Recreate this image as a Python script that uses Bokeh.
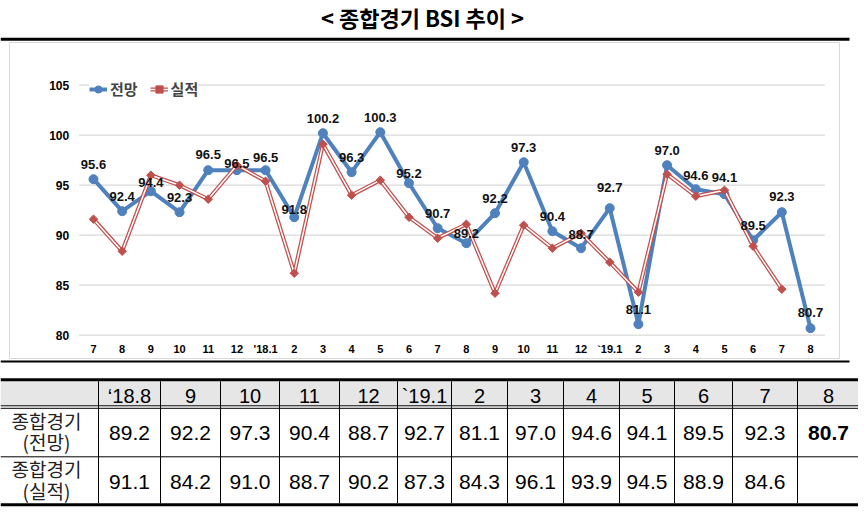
import numpy as np
from bokeh.plotting import figure
from bokeh.models import Range1d, Legend, LegendItem
from bokeh.layouts import column
from bokeh.core.properties import value
from bokeh.embed import file_html
from bokeh.resources import INLINE

# ---------------- data ----------------
title_text = "< 종합경기 BSI 추이 >"
months = ["7", "8", "9", "10", "11", "12", "'18.1", "2", "3", "4", "5", "6", "7",
          "8", "9", "10", "11", "12", "`19.1", "2", "3", "4", "5", "6", "7", "8"]
forecast = [95.6, 92.4, 94.4, 92.3, 96.5, 96.5, 96.5, 91.8, 100.2, 96.3, 100.3, 95.2, 90.7,
            89.2, 92.2, 97.3, 90.4, 88.7, 92.7, 81.1, 97.0, 94.6, 94.1, 89.5, 92.3, 80.7]
actual = [91.6, 88.4, 96.0, 95.0, 93.6, 97.0, 95.4, 86.2, 99.1, 94.0, 95.5, 91.8, 89.7,
          91.1, 84.2, 91.0, 88.7, 90.2, 87.3, 84.3, 96.1, 93.9, 94.5, 88.9, 84.6]
y_ticks = [80, 85, 90, 95, 100, 105]
series_names = ["전망", "실적"]

table_headers = ["\u201818.8", "9", "10", "11", "12", "`19.1", "2", "3", "4", "5", "6", "7", "8"]
table_forecast = [89.2, 92.2, 97.3, 90.4, 88.7, 92.7, 81.1, 97.0, 94.6, 94.1, 89.5, 92.3, 80.7]
table_actual = [91.1, 84.2, 91.0, 88.7, 90.2, 87.3, 84.3, 96.1, 93.9, 94.5, 88.9, 84.6]
row_labels = [("종합경기", "(전망)"), ("종합경기", "(실적)")]

# ---------------- layout / style ----------------
W = 858
HA = 372          # chart section height
HT = 143          # table section height
X0 = 93.0         # canvas x of first category
STEP = 28.68      # px per category
Y80 = 334.7       # canvas y of value 80
PPU = 10.0        # px per unit
BLUE = "#4f81bd"
RED = "#c0504d"
GRID = "#d9d9d9"
NUM_FONT = value("Liberation Sans")
KR_FONT = value("Noto Sans CJK KR")
# vertical offsets of the forecast data labels (px, negative = up)
label_dy = [-15, -15, -9, -15, -16, -7, -13, -8, -15, -15, -15, -10, -15,
            -10, -15, -15, -15, -14, -21, -15, -15, -14, -17, -15, -16, -16]

# ---------------- chart section ----------------
pa = figure(width=W, height=HA, output_backend="svg", toolbar_location=None,
            x_range=Range1d(0, W), y_range=Range1d(HA, 0),
            x_axis_location=None, y_axis_location=None, min_border=0,
            outline_line_color=None, background_fill_color="white",
            border_fill_color="white")
pa.xgrid.visible = False
pa.ygrid.visible = False
pa.extra_x_ranges = {"cx": Range1d(-X0 / STEP, (W - X0) / STEP)}
pa.extra_y_ranges = {"cy": Range1d(80 - (HA - Y80) / PPU, 80 + Y80 / PPU)}

# title and frame decorations (pixel layout)
pa.text(x=[422], y=[16], text=[title_text], text_font=KR_FONT, text_font_style="bold",
        text_font_size="22px", text_align="center", text_baseline="middle", text_color="black")
pa.segment(x0=[0], x1=[849], y0=[38.7], y1=[38.7], line_color="black", line_width=3)
pa.quad(left=[9], right=[839], top=[42], bottom=[358], fill_color="white", line_color=GRID,
        line_width=1)
pa.segment(x0=[0], x1=[849], y0=[361], y1=[361], line_color="black", line_width=2)

n = len(months)
idx = list(range(n))
idx_a = list(range(len(actual)))
kw = dict(x_range_name="cx", y_range_name="cy")

# gridlines
pa.segment(x0=[-0.5] * len(y_ticks), x1=[n - 0.5] * len(y_ticks), y0=y_ticks, y1=y_ticks,
           line_color=GRID, line_width=1.3, **kw)
# y tick labels
pa.text(x=[-0.5] * len(y_ticks), y=y_ticks, text=[str(t) for t in y_ticks], x_offset=-10,
        text_align="right", text_baseline="middle", text_font=NUM_FONT,
        text_font_style="bold", text_font_size="12px", text_color="black", **kw)
# x tick labels
pa.text(x=idx, y=[y_ticks[0]] * n, text=months, y_offset=14, text_align="center",
        text_baseline="middle", text_font=NUM_FONT, text_font_style="bold",
        text_font_size="11px", text_color="black", **kw)

# forecast series
bl = pa.line(idx, forecast, line_color=BLUE, line_width=4, **kw)
bc = pa.scatter(idx, forecast, size=9, fill_color=BLUE, line_color=BLUE, **kw)
# actual series (double line)
rl = pa.line(idx_a, actual, line_color=RED, line_width=4, **kw)
rw = pa.line(idx_a, actual, line_color="white", line_width=1.5, **kw)
rc = pa.scatter(idx_a, actual, marker="square", angle=np.pi / 4, size=6,
                fill_color=RED, line_color=RED, **kw)

# data labels
pa.text(x=idx, y=forecast, text=[f"{v:.1f}" for v in forecast], y_offset=label_dy,
        text_align="center", text_baseline="middle", text_font=NUM_FONT,
        text_font_style="bold", text_font_size="13px", text_color="#111111", **kw)

legend = Legend(items=[LegendItem(label=series_names[0], renderers=[bl, bc]),
                       LegendItem(label=series_names[1], renderers=[rl, rw, rc])],
                location=(89, HA - 99), orientation="horizontal",
                background_fill_color="white", background_fill_alpha=1.0,
                border_line_color=None, label_text_font="Noto Sans CJK KR",
                label_text_font_style="bold", label_text_font_size="15px",
                glyph_width=18, glyph_height=20, spacing=12, padding=3, margin=0,
                label_standoff=3)
pa.add_layout(legend)

# ---------------- table section ----------------
col_edges = [0, 98, 160, 220, 279, 339, 397, 451, 507, 563, 619, 674, 732, 797, 859]
HEAD_Y = 23.3
ROW_Y = [60.8, 109.2]
LABEL_Y = [(47.5, 69.0), (95.8, 117.5)]

pt = figure(width=W, height=HT, output_backend="svg", toolbar_location=None,
            x_range=Range1d(0, W), y_range=Range1d(HT, 0),
            x_axis_location=None, y_axis_location=None, min_border=0,
            outline_line_color=None, background_fill_color="white",
            border_fill_color="white")
pt.xgrid.visible = False
pt.ygrid.visible = False

pt.quad(left=[0], right=[W], top=[8.8], bottom=[33.3], fill_color="#e6e6e6", line_color=None)
pt.segment(x0=[0], x1=[W], y0=[7.3], y1=[7.3], line_color="black", line_width=3)
pt.segment(x0=[0, 0, 0], x1=[W, W, W], y0=[33.3, 35.8, 84.3], y1=[33.3, 35.8, 84.3],
           line_color="black", line_width=1)
pt.segment(x0=[0], x1=[W], y0=[132.3], y1=[132.3], line_color="black", line_width=3)
vx = col_edges[1:-1]
pt.segment(x0=vx, x1=vx, y0=[8.8] * len(vx), y1=[130.8] * len(vx),
           line_color="black", line_width=1)

centers = [(col_edges[i] + col_edges[i + 1]) / 2 for i in range(1, len(col_edges) - 1)]
pt.text(x=centers, y=[HEAD_Y] * len(centers), text=table_headers, text_align="center",
        text_baseline="middle", text_font=NUM_FONT, text_font_size="20px", text_color="black")
pt.text(x=centers[:-1], y=[ROW_Y[0]] * (len(centers) - 1),
        text=[f"{v:.1f}" for v in table_forecast[:-1]], text_align="center",
        text_baseline="middle", text_font=NUM_FONT, text_font_size="21px", text_color="black")
pt.text(x=[centers[-1]], y=[ROW_Y[0]], text=[f"{table_forecast[-1]:.1f}"],
        text_align="center", text_baseline="middle", text_font=NUM_FONT,
        text_font_style="bold", text_font_size="21px", text_color="black")
pt.text(x=centers[:len(table_actual)], y=[ROW_Y[1]] * len(table_actual),
        text=[f"{v:.1f}" for v in table_actual], text_align="center",
        text_baseline="middle", text_font=NUM_FONT, text_font_size="21px", text_color="black")

label_x = 46
for (l1, l2), (y1, y2) in zip(row_labels, LABEL_Y):
    pt.text(x=[label_x, label_x], y=[y1, y2], text=[l1, l2], text_align="center",
            text_baseline="middle", text_font=KR_FONT, text_font_size="19px",
            text_color="#222222")

layout = column(pa, pt, spacing=0)
open("out.html", "w").write(file_html(layout, INLINE))
